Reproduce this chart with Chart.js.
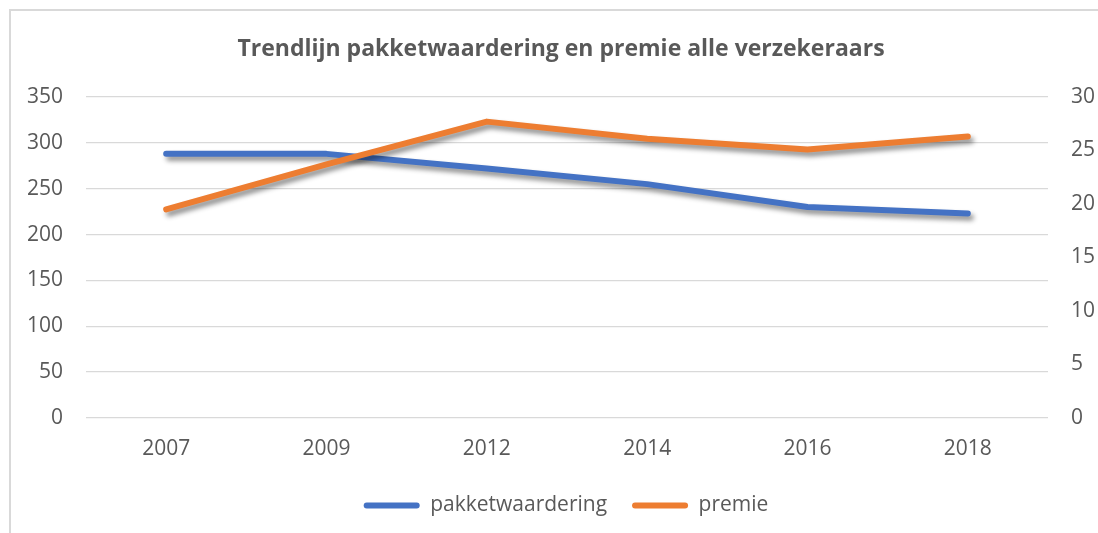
<!DOCTYPE html>
<html>
<head>
<meta charset="utf-8">
<script src="https://cdn.jsdelivr.net/npm/chart.js@4.4.1/dist/chart.umd.min.js"></script>
<style>
    html, body { margin: 0; padding: 0; background: #fff; overflow: hidden; }
    #wrap { position: relative; width: 1098px; height: 533px; }
    #rand { position: absolute; left: 9px; top: 9px; width: 1100px; height: 540px; border: 2px solid #d9d9d9; box-sizing: border-box; }
    canvas { position: absolute; left: 0; top: 0; }
</style>
</head>
<body>
<div id="wrap">
    <div id="rand"></div>
    <canvas id="trendChart" width="1098" height="533"></canvas>
</div>
<script>
// Trendlijn pakketwaardering en premie

const jaren = ['2007', '2009', '2012', '2014', '2016', '2018'];
const pakketwaardering = [288, 288, 272, 255, 230, 223];
const premie = [19.5, 23.7, 27.7, 26.1, 25.1, 26.3];

const kleuren = {
    blauw: '#4472C4',
    oranje: '#ED7D31',
    tekst: '#595959',
    raster: '#d9d9d9'
};

const lettertype = "'Open Sans', 'Noto Sans', sans-serif";

// schaduw onder de lijnen, zoals in Excel
const schaduwPlugin = {
    id: 'schaduw',
    beforeDatasetDraw(chart) {
        const ctx = chart.ctx;
        ctx.save();
        ctx.shadowColor = 'rgba(0,0,0,0.45)';
        ctx.shadowBlur = 5;
        ctx.shadowOffsetX = 3;
        ctx.shadowOffsetY = 4;
    },
    afterDatasetDraw(chart) {
        chart.ctx.restore();
    }
};

// titel en legenda iets naar rechts, zoals in het origineel
const verschuiving = {
    id: 'verschuiving',
    afterLayout(chart) {
        if (chart.legend) {
            chart.legend.left += 17;
            chart.legend.right += 17;
        }
        if (chart.titleBlock) {
            chart.titleBlock.left += 12;
            chart.titleBlock.right += 12;
        }
    }
};

const ctx = document.getElementById('trendChart').getContext('2d');

new Chart(ctx, {
    type: 'line',
    data: {
        labels: jaren,
        datasets: [
            {
                label: 'pakketwaardering',
                data: pakketwaardering,
                yAxisID: 'y',
                borderColor: kleuren.blauw,
                backgroundColor: kleuren.blauw,
                borderWidth: 6,
                borderCapStyle: 'round',
                borderJoinStyle: 'round',
                pointRadius: 0,
                tension: 0,
                order: 2
            },
            {
                label: 'premie',
                data: premie,
                yAxisID: 'y1',
                borderColor: kleuren.oranje,
                backgroundColor: kleuren.oranje,
                borderWidth: 6,
                borderCapStyle: 'round',
                borderJoinStyle: 'round',
                pointRadius: 0,
                tension: 0,
                order: 1
            }
        ]
    },
    options: {
        responsive: false,
        animation: false,
        devicePixelRatio: 1,
        layout: {
            padding: { top: 0, bottom: 7, left: 0, right: 0 }
        },
        scales: {
            x: {
                offset: true,
                grid: { display: false },
                border: { display: false },
                ticks: {
                    color: kleuren.tekst,
                    font: { family: lettertype, size: 21 },
                    padding: 10
                },
                afterFit: (scale) => { scale.height = 52; }
            },
            y: {
                position: 'left',
                min: 0,
                max: 350,
                grid: { color: kleuren.raster, lineWidth: 1.3, drawTicks: false },
                border: { display: false },
                ticks: {
                    stepSize: 50,
                    color: kleuren.tekst,
                    font: { family: lettertype, size: 21 },
                    padding: 23
                },
                afterFit: (scale) => { scale.width = 86; }
            },
            y1: {
                position: 'right',
                min: 0,
                max: 30,
                grid: { drawOnChartArea: false, drawTicks: false },
                border: { display: false },
                ticks: {
                    stepSize: 5,
                    color: kleuren.tekst,
                    font: { family: lettertype, size: 21 },
                    padding: 23
                },
                afterFit: (scale) => { scale.width = 50; }
            }
        },
        plugins: {
            title: {
                display: true,
                text: 'Trendlijn pakketwaardering en premie alle verzekeraars',
                color: kleuren.tekst,
                font: { family: lettertype, size: 23, weight: 'bold' },
                padding: { top: 36, bottom: 33.4 }
            },
            legend: {
                position: 'bottom',
                labels: {
                    color: kleuren.tekst,
                    font: { family: lettertype, size: 21 },
                    boxWidth: 56,
                    boxHeight: 6,
                    padding: 25,
                    useBorderRadius: true,
                    borderRadius: 3,
                    sort: (a, b) => a.datasetIndex - b.datasetIndex,
                    generateLabels: (chart) => {
                        const basis = Chart.defaults.plugins.legend.labels.generateLabels(chart);
                        return basis.map(item => ({ ...item, lineWidth: 0 }));
                    }
                }
            },
            tooltip: { enabled: false }
        }
    },
    plugins: [schaduwPlugin, verschuiving]
});
</script>
</body>
</html>
